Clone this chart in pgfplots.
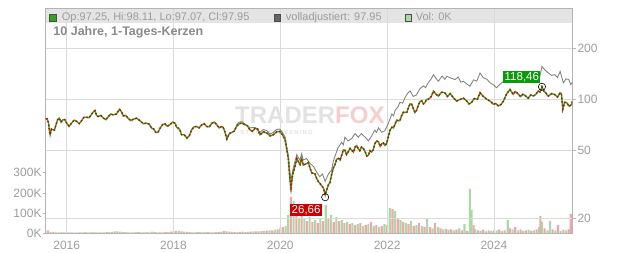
\documentclass[border=0pt]{standalone}
\usepackage{fontspec}
\setmainfont{Liberation Sans}
\newfontfamily\wmfont[LetterSpace=18]{Liberation Sans}
\usepackage{pgfplots}
\usepackage{pgfplotstable}
\pgfplotsset{compat=1.18}
\definecolor{framegray}{HTML}{B4B4B4}
\definecolor{gridgray}{HTML}{DADADA}
\definecolor{labelgray}{HTML}{9C9C9C}
\definecolor{titlegray}{HTML}{8A8A8A}
\definecolor{bandgray}{HTML}{E4E4E4}
\definecolor{candlegreen}{HTML}{33A31A}
\definecolor{candlered}{HTML}{C80A0A}
\definecolor{adjgray}{HTML}{7F7F7F}
\definecolor{volgreen}{HTML}{A9DAA3}
\definecolor{volpink}{HTML}{F2A5AC}
\definecolor{boxgreen}{HTML}{0A9A0A}
\definecolor{boxred}{HTML}{CC0000}
\definecolor{wmgray}{HTML}{E2E2E2}
\definecolor{wmpink}{HTML}{F8CDCD}

\newcommand{\fs}[1]{\fontsize{#1bp}{#1bp}\selectfont}

\pgfplotstableread{
x y
2015.61 76.5
2015.635 77
2015.66 72.5
2015.675 66
2015.69 62
2015.715 67
2015.74 66.3
2015.77 66
2015.80 70.9
2015.83 76
2015.86 77.5
2015.895 73.5
2015.93 75.8
2015.965 76
2016.00 72.5
2016.045 69.5
2016.09 72.5
2016.14 75.5
2016.19 74.1
2016.235 72
2016.28 75
2016.325 78.5
2016.37 78.5
2016.42 78
2016.47 82.1
2016.50 84.5
2016.53 85.9
2016.56 80.5
2016.59 79.2
2016.64 80.5
2016.69 77.5
2016.735 76
2016.78 79.2
2016.825 82
2016.87 81
2016.93 82
2016.99 87.4
2017.025 84.5
2017.06 80
2017.105 80.5
2017.15 77.5
2017.20 75
2017.25 76.5
2017.31 77.5
2017.37 75
2017.435 72
2017.50 72.5
2017.545 71.5
2017.59 67.8
2017.63 67
2017.67 63.9
2017.71 64
2017.75 67.8
2017.795 71
2017.84 71.8
2017.885 69.5
2017.93 70.9
2017.98 73.5
2018.03 72.5
2018.06 68.5
2018.09 67.8
2018.12 66
2018.15 62
2018.20 62
2018.25 59.3
2018.295 61
2018.34 66.3
2018.385 69
2018.43 69.3
2018.48 68
2018.53 70.9
2018.575 72
2018.62 69.3
2018.67 69
2018.72 72.5
2018.765 73.5
2018.81 70.9
2018.855 68
2018.90 69.3
2018.93 68.5
2018.96 64.8
2019.00 58.5
2019.045 63
2019.09 63.9
2019.135 65
2019.18 69.3
2019.23 72
2019.28 72.5
2019.34 70.9
2019.385 70
2019.43 66.3
2019.48 65
2019.53 67.8
2019.575 67
2019.62 62
2019.685 64.5
2019.75 63.4
2019.81 61
2019.87 62
2019.93 64.5
2019.99 64.8
2020.04 62
2020.09 58
2020.15 45
2020.18 33.9
2020.20 30.1
2020.23 36
2020.28 41.1
2020.31 45
2020.34 43
2020.37 41.5
2020.40 45
2020.43 41.1
2020.49 42
2020.525 42.5
2020.56 39.3
2020.59 37
2020.62 36.8
2020.65 36.5
2020.68 34.4
2020.71 33
2020.74 32.2
2020.81 30.1
2020.84 27.5
2020.90 31.5
2020.93 32.5
2020.96 36
2020.99 39.5
2021.02 41.1
2021.055 44.5
2021.09 45
2021.12 44
2021.15 47
2021.18 50.5
2021.21 50.2
2021.24 47.5
2021.27 49.1
2021.305 51.5
2021.34 50.2
2021.37 49
2021.40 52.5
2021.43 53.5
2021.46 51.3
2021.49 50
2021.52 52.5
2021.555 51.5
2021.59 49.1
2021.62 46.5
2021.65 47
2021.68 50
2021.71 49.1
2021.74 50.5
2021.77 54.9
2021.805 57
2021.84 56.2
2021.87 53
2021.90 54.9
2021.93 55.5
2021.96 53.7
2021.99 55
2022.02 60
2022.055 66
2022.09 68.6
2022.12 68
2022.15 71.7
2022.18 75.5
2022.21 74.9
2022.24 75
2022.27 80
2022.305 84
2022.34 83.7
2022.37 84
2022.40 89.5
2022.43 94
2022.46 93.6
2022.52 83.7
2022.55 86
2022.58 91.5
2022.615 97
2022.65 97.8
2022.68 94
2022.71 95.7
2022.74 100
2022.77 100
2022.82 103
2022.87 111.7
2022.915 107
2022.96 104.5
2023.02 110
2023.08 109.3
2023.13 104
2023.18 108
2023.24 102.3
2023.30 97.5
2023.37 100
2023.43 101.5
2023.49 97.8
2023.535 94
2023.58 95.7
2023.63 101
2023.69 100
2023.74 109.3
2023.80 104
2023.87 100
2023.93 97.5
2023.99 93.6
2024.035 94.5
2024.08 91.5
2024.13 93
2024.18 97.8
2024.24 108
2024.30 114.2
2024.36 107
2024.40 111
2024.43 109.3
2024.50 104
2024.54 107
2024.58 105.5
2024.64 101.5
2024.69 106
2024.74 104.5
2024.785 107
2024.83 112
2024.865 110
2024.90 118.46
2024.935 112
2024.97 109.3
2024.995 106
2025.02 104.5
2025.08 108
2025.14 106.5
2025.19 103
2025.24 109.3
2025.265 107
2025.29 87.5
2025.325 96
2025.36 95.7
2025.41 91
2025.46 93.6
2025.468 97.95
}\closedata

\begin{document}
\begin{tikzpicture}
\useasboundingbox (0,0) rectangle (632bp,253bp);

% ---------------- volume axis (left) ----------------
\begin{axis}[
  at={(45.7bp,19.7bp)}, anchor=south west,
  scale only axis, width=526.6bp, height=225bp,
  xmin=2015.607, xmax=2025.468,
  ymin=0, ymax=1114,
  axis x line=none,
  axis y line*=left,
  y axis line style={draw=none},
  ytick={0,100,200,300},
  yticklabels={0K,100K,200K,300K},
  tick align=outside,
  major tick length=3bp,
  ytick style={draw=framegray, line width=0.7bp},
  yticklabel style={font=\fs{12}, text=labelgray, inner sep=1bp},
  clip=true,
]
% header band
\fill[bandgray] (rel axis cs:0,0.9347) rectangle (rel axis cs:1,1);

% volume: green bars (thousands)
\addplot[ybar, bar width=0.04, bar shift=0pt, fill=volgreen, draw=none] coordinates {
(2015.60,8) (2015.70,6) (2015.80,5) (2015.90,6) (2016.00,4) (2016.10,5) (2016.20,4) (2016.30,5)
(2016.40,4) (2016.50,6) (2016.60,5) (2016.70,4) (2016.80,6) (2016.90,10) (2017.00,8) (2017.10,6)
(2017.20,5) (2017.30,7) (2017.40,5) (2017.50,6) (2017.60,8) (2017.70,5) (2017.80,4) (2017.90,6)
(2018.00,9) (2018.10,12) (2018.20,8) (2018.30,6) (2018.40,5) (2018.50,6) (2018.60,7) (2018.70,5)
(2018.80,6) (2018.90,8) (2019.00,10) (2019.10,7) (2019.20,6) (2019.30,8) (2019.40,7) (2019.50,9)
(2019.60,10) (2019.70,12) (2019.80,15) (2019.90,18)
(2020.00,25) (2020.10,35) (2020.15,90) (2020.25,160) (2020.35,75) (2020.45,70) (2020.55,80)
(2020.65,65) (2020.75,70) (2020.85,140) (2020.95,90) (2021.05,80) (2021.15,65) (2021.25,55)
(2021.35,50) (2021.45,45) (2021.55,35) (2021.65,45) (2021.75,35) (2021.85,30) (2021.95,45)
(2022.05,125) (2022.15,110) (2022.25,65) (2022.35,50) (2022.45,60) (2022.55,40) (2022.65,35)
(2022.75,75) (2022.85,25) (2022.95,30) (2023.05,20) (2023.15,18) (2023.25,15) (2023.35,25)
(2023.45,45) (2023.55,220) (2023.58,115) (2023.65,20) (2023.75,12) (2023.85,10) (2023.95,12)
(2024.05,15) (2024.15,12) (2024.26,66) (2024.35,20) (2024.45,15) (2024.55,12) (2024.65,18)
(2024.75,15) (2024.85,30) (2024.90,58) (2025.00,15) (2025.05,61) (2025.15,15) (2025.25,12)
(2025.35,15) (2025.46,54)
};
% volume: pink bars
\addplot[ybar, bar width=0.04, bar shift=0pt, fill=volpink, draw=none] coordinates {
(2015.65,14) (2015.75,7) (2015.85,5) (2015.95,4) (2016.05,5) (2016.15,3) (2016.25,4) (2016.35,6)
(2016.45,5) (2016.55,4) (2016.65,5) (2016.75,6) (2016.85,7) (2016.95,9) (2017.05,6) (2017.15,5)
(2017.25,4) (2017.35,6) (2017.45,5) (2017.55,4) (2017.65,6) (2017.75,5) (2017.85,7) (2017.95,8)
(2018.05,12) (2018.15,9) (2018.25,7) (2018.35,5) (2018.45,6) (2018.55,5) (2018.65,6) (2018.75,4)
(2018.85,7) (2018.95,12) (2019.05,8) (2019.15,6) (2019.25,7) (2019.35,6) (2019.45,8) (2019.55,9)
(2019.65,11) (2019.75,13) (2019.85,14) (2019.95,20)
(2020.05,30) (2020.20,180) (2020.30,90) (2020.40,100) (2020.50,60) (2020.60,55) (2020.70,50)
(2020.80,60) (2020.90,75) (2021.00,55) (2021.10,60) (2021.20,50) (2021.30,45) (2021.40,40)
(2021.50,50) (2021.60,40) (2021.70,55) (2021.80,40) (2021.90,35) (2022.00,40) (2022.10,120)
(2022.20,70) (2022.30,55) (2022.40,45) (2022.50,35) (2022.60,50) (2022.70,30) (2022.80,30)
(2022.90,50) (2023.00,25) (2023.10,22) (2023.20,20) (2023.30,18) (2023.40,15) (2023.50,12)
(2023.62,40) (2023.70,15) (2023.80,18) (2023.90,15) (2024.00,14) (2024.10,18) (2024.20,15)
(2024.30,25) (2024.40,30) (2024.50,20) (2024.60,15) (2024.70,12) (2024.80,20) (2024.87,86)
(2024.95,25) (2025.10,20) (2025.20,41) (2025.30,18) (2025.40,20) (2025.44,96)
};
\end{axis}

% ---------------- price axis (right, log) ----------------
\begin{axis}[
  at={(45.7bp,19.7bp)}, anchor=south west,
  scale only axis, width=526.6bp, height=225bp,
  xmin=2015.607, xmax=2025.468,
  ymode=log, ymin=16.39, ymax=341.6,
  axis line style={draw=framegray, line width=0.8bp},
  xtick={2016,2018,2020,2022,2024},
  xticklabels={2016,2018,2020,2022,2024},
  xtick style={draw=none},
  ytick={20,50,100,200},
  yticklabels={20,50,100,200},
  ytick pos=right, yticklabel pos=right,
  tick align=outside,
  major tick length=4bp,
  ytick style={draw=framegray, line width=0.7bp},
  grid=major,
  grid style={draw=gridgray, line width=0.7bp},
  xticklabel style={font=\fs{12}, text=labelgray},
  yticklabel style={font=\fs{12}, text=labelgray, inner sep=1bp},
  clip=true,
]
% watermark
\node[anchor=base west, inner sep=0pt, font=\bfseries\fs{24}] at (axis cs:2019.152,71.7)
  {\textcolor{wmgray}{TRADER}\textcolor{wmpink}{FOX}};
\node[anchor=base west, inner sep=0pt, font=\wmfont\bfseries\fs{6}, text=wmgray] at (axis cs:2019.25,62.5)
  {STOCK SCREENING};

% adjusted (gray) line
\addplot[adjgray, line width=0.85bp] coordinates {
(2019.18,71) (2019.23,73.5) (2019.28,74) (2019.35,71) (2019.43,68) (2019.52,68.5) (2019.62,64)
(2019.68,66.5) (2019.75,65.5) (2019.81,62.5) (2019.87,64) (2019.93,66.5) (2019.99,67) (2020.04,64)
(2020.09,60) (2020.15,46.5) (2020.20,33) (2020.23,38) (2020.28,44) (2020.31,47.5) (2020.34,45.5)
(2020.37,44) (2020.40,48) (2020.43,44) (2020.49,45) (2020.56,42) (2020.62,40.5) (2020.68,37.5)
(2020.74,35.2) (2020.79,36.5) (2020.84,33) (2020.90,36.5) (2020.96,38.4) (2020.99,43) (2021.02,46)
(2021.08,52) (2021.15,56) (2021.18,54) (2021.21,60) (2021.27,57) (2021.34,59) (2021.37,61)
(2021.40,63) (2021.46,60) (2021.52,63) (2021.55,61.5) (2021.59,60) (2021.62,58.5) (2021.65,57)
(2021.71,61) (2021.77,66) (2021.80,64) (2021.84,68) (2021.90,64) (2021.96,65.6) (2022.02,72)
(2022.05,76) (2022.09,82) (2022.12,80) (2022.15,86) (2022.20,90) (2022.24,96) (2022.29,95)
(2022.34,103) (2022.38,108) (2022.43,112) (2022.49,104) (2022.55,106) (2022.61,115) (2022.68,120)
(2022.72,117) (2022.77,125) (2022.82,131) (2022.87,139.5) (2022.91,133) (2022.96,127.6)
(2023.03,137) (2023.08,131) (2023.12,136.4) (2023.20,133) (2023.27,130.5) (2023.33,135)
(2023.38,126) (2023.43,127.6) (2023.49,123) (2023.55,119.4) (2023.62,130) (2023.68,128)
(2023.74,142.7) (2023.80,134) (2023.87,131) (2023.93,124.9) (2024.00,121) (2024.05,116.9)
(2024.12,123) (2024.18,127.6) (2024.25,136) (2024.33,139.5) (2024.40,134) (2024.49,138)
(2024.57,131) (2024.65,133.5) (2024.72,130) (2024.81,139.5) (2024.86,136) (2024.90,155.9)
(2024.96,148) (2025.02,142.7) (2025.08,138) (2025.14,139.5) (2025.19,134) (2025.24,145.9)
(2025.27,135) (2025.30,124.9) (2025.35,132) (2025.40,130.5) (2025.44,122) (2025.47,126)
};

% close series (candles)
\addplot[candlegreen, line width=1.4bp] table[x=x,y=y] {\closedata};
\addplot[candlered, line width=1.4bp, dash pattern=on 1.6bp off 2.1bp] table[x=x,y=y] {\closedata};

% extreme markers
\addplot[only marks, mark=o, mark size=3.6bp, mark options={draw=black, line width=0.6bp}] coordinates {(2020.84,26.66) (2024.90,118.46)};

% value boxes
\node[anchor=south east, fill=boxgreen, text=white, inner sep=1.5bp, font=\fs{11.5}] at (axis cs:2024.876,124.1) {118,46};
\node[anchor=north west, fill=boxred, text=white, inner sep=1.5bp, font=\fs{11.5}] at (axis cs:2020.182,24.56) {26,66};

% header legend
\draw[draw=black!70, fill=candlegreen, line width=0.5bp] (rel axis cs:0.0076,0.9420) rectangle (rel axis cs:0.0200,0.9725);
\node[anchor=base west, inner sep=0pt, font=\fs{11}, text=labelgray] at (rel axis cs:0.0304,0.9436) {Op:97.25, Hi:98.11, Lo:97.07, Cl:97.95};
\draw[draw=black!70, fill=black!60, line width=0.5bp] (rel axis cs:0.4335,0.9420) rectangle (rel axis cs:0.4460,0.9725);
\node[anchor=base west, inner sep=0pt, font=\fs{11}, text=labelgray] at (rel axis cs:0.4558,0.9436) {volladjustiert: 97.95};
\draw[draw=black!70, fill=volgreen, line width=0.5bp] (rel axis cs:0.6826,0.9420) rectangle (rel axis cs:0.6950,0.9725);
\node[anchor=base west, inner sep=0pt, font=\fs{11}, text=labelgray] at (rel axis cs:0.7026,0.9436) {Vol: 0K};
% title
\node[anchor=base west, inner sep=0pt, font=\bfseries\fs{12.5}, text=titlegray] at (rel axis cs:0.0144,0.8782) {10 Jahre, 1-Tages-Kerzen};
\end{axis}
\end{tikzpicture}
\end{document}
